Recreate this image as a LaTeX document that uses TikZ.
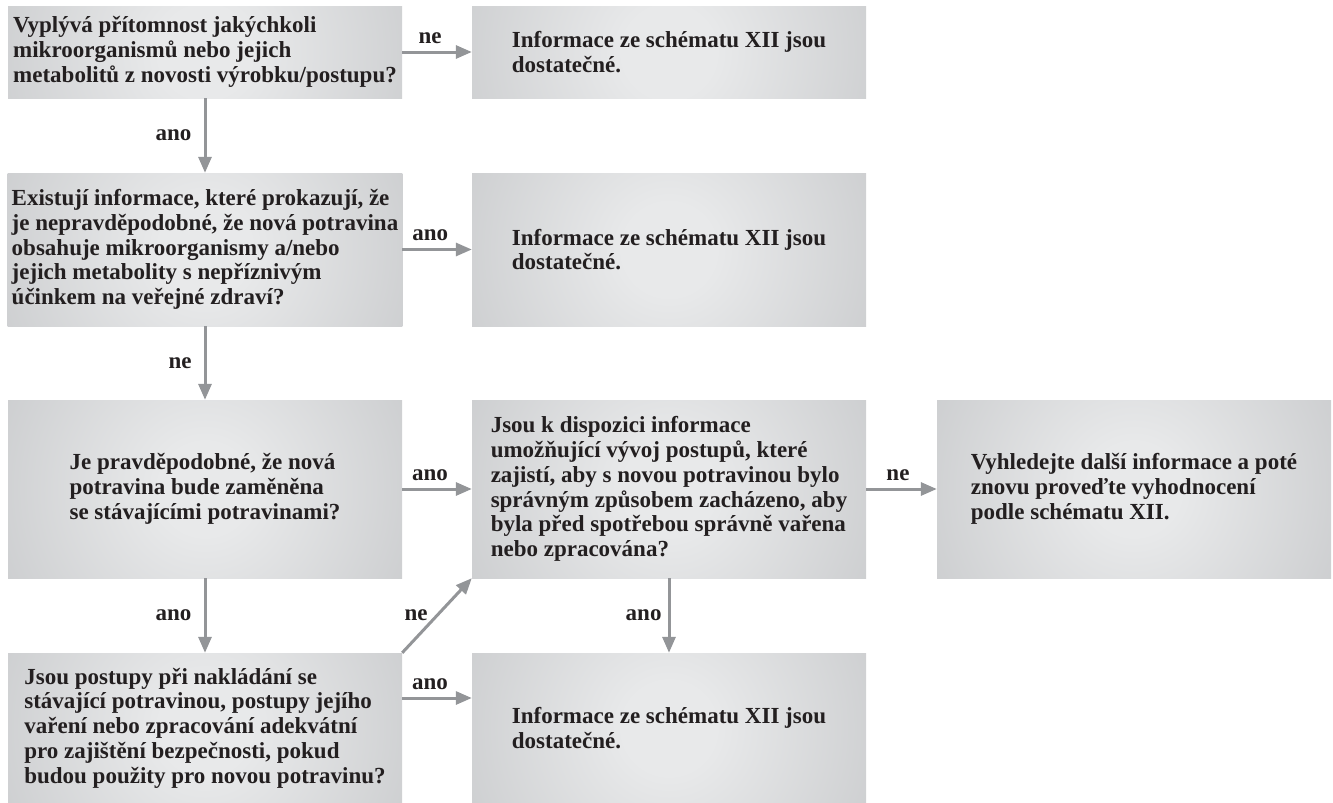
\documentclass[tikz,border=0pt]{standalone}
\usepackage{fontspec}
\setmainfont{Liberation Serif}
\usepackage{xcolor}
\usepackage{tikz}
\usetikzlibrary{arrows.meta, positioning}

\definecolor{boxlight}{HTML}{E8E9EA}
\definecolor{boxdark}{HTML}{A8AAAD}
\definecolor{arrowgray}{HTML}{939598}
\definecolor{ink}{HTML}{231F20}
\pgfdeclareradialshading{boxglow}{\pgfpoint{0bp}{0bp}}{%
  color(0bp)=(boxlight); color(5bp)=(boxlight); color(50bp)=(boxdark)}
\newcommand{\chartfont}{\fontsize{23}{24.7}\selectfont\bfseries}

\begin{document}
\begin{tikzpicture}[x=1pt, y=-1pt,
  box/.style={
    rectangle, inner xsep=4pt, inner ysep=0pt,
    minimum width=394pt,
    align=left, font=\chartfont, text=ink,
    path picture={\shade[shading=boxglow]
      (path picture bounding box.center) circle (230pt);}
  },
  arrow/.style={-{Triangle[length=16pt, width=13pt]}, line width=3pt, arrowgray},
  lbl/.style={font=\chartfont, text=ink, inner sep=2pt}
]
\useasboundingbox (0,0) rectangle (1333,803);

% ---- Left column ----
\node[box, minimum height=92pt]  (q1) at (205,52)
  {Vyplývá přítomnost jakýchkoli\\mikroorganismů nebo jejich\\metabolitů z novosti výrobku/postupu?};
\node[box, minimum height=153pt] (q2) at (205,249.5)
  {Existují informace, které prokazují, že\\je nepravděpodobné, že nová potravina\\obsahuje mikroorganismy a/nebo\\jejich metabolity s nepříznivým\\účinkem na veřejné zdraví?};
\node[box, minimum height=178pt] (q3) at (205,489)
  {Je pravděpodobné, že nová\\potravina bude zaměněna\\se stávajícími potravinami?};
\node[box, minimum height=150pt] (q5) at (205,728)
  {Jsou postupy při nakládání se\\stávající potravinou, postupy jejího\\vaření nebo zpracování adekvátní\\pro zajištění bezpečnosti, pokud\\budou použity pro novou potravinu?};

% ---- Middle column ----
\node[box, minimum height=92pt]  (info1) at (669,52)
  {Informace ze schématu XII jsou\\dostatečné.};
\node[box, minimum height=153pt] (info2) at (669,249.5)
  {Informace ze schématu XII jsou\\dostatečné.};
\node[box, minimum height=178pt] (q4) at (669,489)
  {Jsou k dispozici informace\\umožňující vývoj postupů, které\\zajistí, aby s novou potravinou bylo\\správným způsobem zacházeno, aby\\byla před spotřebou správně vařena\\nebo zpracována?};
\node[box, minimum height=150pt] (info3) at (669,728)
  {Informace ze schématu XII jsou\\dostatečné.};

% ---- Right column ----
\node[box, minimum height=178pt] (search) at (1134,489)
  {Vyhledejte další informace a poté\\znovu proveďte vyhodnocení\\podle schématu XII.};

% ---- Arrows ----
\draw[arrow] (q1.east) -- node[lbl, pos=0.4, above=5pt] {ne} (info1.west);
\draw[arrow] (q1.south) -- node[lbl, left=10pt] {ano} (q2.north);
\draw[arrow] (q2.east) -- node[lbl, pos=0.4, above=5pt] {ano} (info2.west);
\draw[arrow] (q2.south) -- node[lbl, left=10pt] {ne} (q3.north);
\draw[arrow] (q3.east) -- node[lbl, pos=0.4, above=5pt] {ano} (q4.west);
\draw[arrow] (q4.east) -- node[lbl, pos=0.45, above=5pt] {ne} (search.west);
\draw[arrow] (q3.south) -- node[lbl, left=10pt] {ano} (q5.north);
\draw[arrow] (q5.north east) -- node[lbl, left=6pt] {ne} (q4.south west);
\draw[arrow] ([yshift=30pt]q5.east) -- node[lbl, pos=0.4, above=5pt] {ano} ([yshift=30pt]info3.west);
\draw[arrow] (q4.south) -- node[lbl, left=4pt] {ano} (info3.north);

\end{tikzpicture}
\end{document}
